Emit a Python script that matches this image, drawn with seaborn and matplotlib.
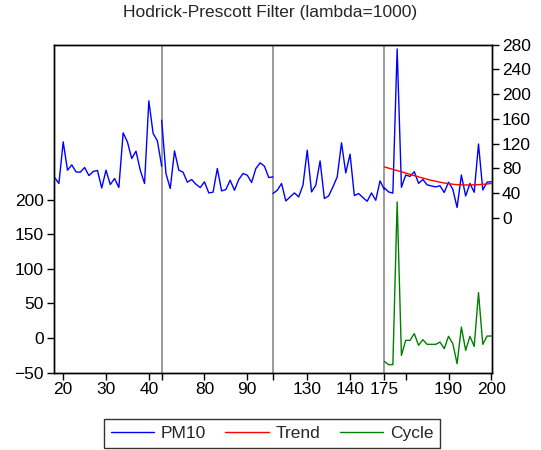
import numpy as np
import pandas as pd
import matplotlib
matplotlib.use("Agg")
import matplotlib.pyplot as plt
from matplotlib.lines import Line2D
import seaborn as sns

# observation numbers of the four sample segments
seg_obs = [list(range(18, 44)), list(range(70, 97)), list(range(122, 149)), list(range(175, 201))]

# PM10 by segment
pm10_1 = [65.4, 55.7, 123.0, 77.2, 85.8, 74.4, 74.0, 81.6, 68.6, 75.1, 76.7, 48.5, 77.2,
          54.0, 63.8, 49.2, 137.5, 123.0, 96.1, 107.9, 77.2, 55.7, 189.3, 136.6, 124.6, 83.7]
pm10_2 = [158.1, 71.8, 47.6, 108.4, 77.2, 74.0, 57.8, 62.1, 54.5, 49.2, 58.3, 40.5, 41.6,
          79.9, 43.7, 46.0, 61.0, 44.8, 62.1, 71.8, 69.1, 57.3, 79.9, 89.0, 83.7, 65.4, 66.3]
pm10_3 = [39.5, 44.8, 55.7, 27.5, 34.0, 40.5, 34.0, 52.9, 109.5, 42.1, 52.9, 92.2, 31.4,
          35.6, 50.2, 66.3, 121.4, 72.8, 103.1, 36.2, 39.5, 33.0, 27.0, 40.5, 28.6, 59.9, 46.0]
pm10_4 = [48.8, 42.1, 40.1, 273.1, 49.6, 69.3, 67.2, 74.8, 55.9, 62.2, 53.5, 51.8, 50.2,
          52.0, 41.2, 57.9, 46.4, 16.9, 69.4, 35.5, 55.8, 41.5, 119.5, 45.3, 57.9, 58.5]

# HP filter output, last segment only
trend = [82.5, 80.5, 78.5, 76.6, 74.6, 72.6, 70.5, 68.4, 66.4, 64.5, 62.6, 60.9, 59.3,
         57.8, 56.5, 55.4, 54.5, 53.9, 53.5, 53.3, 53.3, 53.5, 53.9, 54.4, 55.0, 55.6]
cycle = [-33.7, -38.4, -38.4, 196.5, -25.0, -3.3, -3.3, 6.4, -10.5, -2.3, -9.1, -9.1, -9.1,
         -5.8, -15.3, 2.5, -8.1, -37.0, 15.9, -17.8, 2.5, -12.0, 65.6, -9.1, 2.9, 2.9]

tick_obs = [20, 30, 40, 43, 80, 90, 96, 130, 140, 175, 180, 190, 200]
tick_lab = ['20', '30', '40', '', '80', '90', '', '130', '140', '175', '', '190', '200']

sns.set_style("ticks")
plt.rcParams['font.family'] = ['Liberation Sans', 'DejaVu Sans']
plt.rcParams['font.size'] = 12.5

# segments share their boundary slot on the axis
starts = [0, 25, 51, 77]
frames = []
for i, (obs, vals) in enumerate(zip(seg_obs, [pm10_1, pm10_2, pm10_3, pm10_4])):
    pos = [starts[i] + (o - obs[0]) for o in obs]
    frames.append(pd.DataFrame({'seg': i, 'obs': obs, 'pos': pos, 'pm10': vals}))
df = pd.concat(frames, ignore_index=True)
df4 = df[df.seg == 3].copy()
df4['trend'] = trend
df4['cycle'] = cycle

fig = plt.figure(figsize=(5.41, 4.5), dpi=100)
ax = fig.add_axes([0.0998, 0.1718, 0.8096, 0.7289])
ax2 = ax.twinx()

for b in starts[1:]:
    ax.axvline(b, color='#808080', lw=1.1, zorder=0)

sns.lineplot(data=df4, x='pos', y='cycle', ax=ax, color='#008000', lw=1.0,
             estimator=None, sort=False)
for i in range(4):
    sns.lineplot(data=df[df.seg == i], x='pos', y='pm10', ax=ax2, color='#0000ff',
                 lw=1.0, estimator=None, sort=False)
sns.lineplot(data=df4, x='pos', y='trend', ax=ax2, color='#ff0000', lw=1.0,
             estimator=None, sort=False)

ax.set_xlim(-0.15, 102.15)
ax.set_ylim(-50, 423.5)
ax2.set_ylim(-250, 280)
ax.set_yticks([-50, 0, 50, 100, 150, 200])
ax2.set_yticks(np.arange(0, 281, 40))

# map tick observations onto axis slots (boundary ticks belong to the earlier segment)
tick_pos = []
for t in tick_obs:
    for i, obs in enumerate(seg_obs):
        if obs[0] <= t <= obs[-1]:
            tick_pos.append(starts[i] + t - obs[0])
            break
ax.set_xticks(tick_pos)
ax.set_xticklabels(tick_lab)

for a in (ax, ax2):
    a.set_xlabel('')
    a.set_ylabel('')
    for s in a.spines.values():
        s.set_visible(True)
        s.set_color('black')
        s.set_linewidth(1.0)
    a.tick_params(direction='out', length=5.3, width=1.0, colors='black', labelsize=12.5, pad=2)
ax.tick_params(axis='x', length=4.8, pad=2)

fig.text(0.5, 0.972, 'Hodrick-Prescott Filter (lambda=1000)', ha='center', va='center',
         fontsize=12.5)

handles = [Line2D([], [], color='#0000ff', lw=1.0),
           Line2D([], [], color='#ff0000', lw=1.0),
           Line2D([], [], color='#008000', lw=1.0)]
leg = fig.legend(handles, ['PM10', 'Trend', 'Cycle'], loc='lower center', ncol=3,
                 bbox_to_anchor=(0.503, 0.004), frameon=True, fancybox=False,
                 edgecolor='black', handlelength=2.5, columnspacing=1.1,
                 handletextpad=0.4, borderpad=0.4, borderaxespad=0.0, fontsize=12.5)
leg.get_frame().set_linewidth(1.0)

fig.savefig('out.png', dpi=100)
